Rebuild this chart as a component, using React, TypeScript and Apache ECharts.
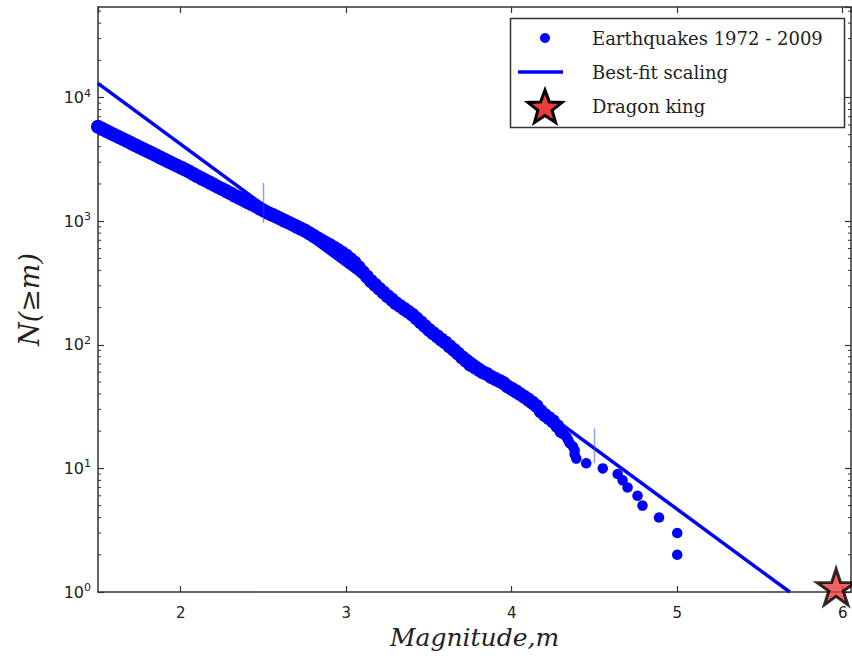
import React, { useEffect, useRef } from "react";
import * as echarts from "echarts";

// Earthquake cumulative counts N(>=m)
const magnitudes = [
  1.5, 1.525, 1.55, 1.575, 1.6, 1.625, 1.65, 1.675, 1.7, 1.725, 1.75, 1.775, 1.8, 1.825, 1.85, 1.875, 1.9, 1.925, 1.95, 1.975,
  2.0, 2.025, 2.05, 2.075, 2.1, 2.125, 2.15, 2.175, 2.2, 2.225, 2.25, 2.275, 2.3, 2.325, 2.35, 2.375, 2.4, 2.425, 2.45, 2.475,
  2.5, 2.525, 2.55, 2.575, 2.6, 2.625, 2.65, 2.675, 2.7, 2.725, 2.75, 2.775, 2.8, 2.825, 2.85, 2.875, 2.9, 2.925, 2.95, 2.975,
  3.0, 3.025, 3.05, 3.075, 3.1, 3.125, 3.15, 3.175, 3.2, 3.225, 3.25, 3.275, 3.3, 3.325, 3.35, 3.375, 3.4, 3.425, 3.45, 3.475,
  3.5, 3.525, 3.55, 3.575, 3.6, 3.625, 3.65, 3.675, 3.7, 3.725, 3.75, 3.775, 3.8, 3.825, 3.85, 3.875, 3.9, 3.925, 3.95, 3.975,
  4.0, 4.025, 4.05, 4.075, 4.1, 4.125, 4.15, 4.175, 4.2, 4.225, 4.25, 4.275, 4.3,
];
const counts = [
  5800, 5580, 5370, 5170, 4980, 4800, 4620, 4450, 4280, 4120, 3960, 3820, 3680, 3540, 3410, 3280, 3160, 3040, 2930, 2820,
  2720, 2620, 2520, 2410, 2310, 2220, 2130, 2050, 1970, 1890, 1820, 1750, 1680, 1610, 1550, 1490, 1430, 1380, 1330, 1270,
  1220, 1170, 1130, 1090, 1050, 1010, 975, 939, 904, 871, 839, 801, 764, 730, 697, 668, 640, 611, 583, 554,
  526, 493, 462, 423, 387, 356, 327, 305, 284, 265, 247, 232, 217, 206, 195, 185, 175, 163, 152, 142,
  132, 124, 117, 110, 104, 97, 91, 85, 79, 74, 69, 66, 63, 60, 58, 55, 53, 51, 49, 46,
  44, 42, 40, 38, 36, 34, 32, 29, 27, 25.5, 24, 22, 20,
];
// isolated tail points
const tailMagnitudes = [4.31, 4.33, 4.34, 4.35, 4.37, 4.38, 4.38, 4.39, 4.45, 4.55, 4.64, 4.67, 4.7, 4.76, 4.79, 4.89, 5.0, 5.0];
const tailCounts = [19, 18, 17, 16, 15, 14, 13, 12, 11, 10, 9, 8, 7, 6, 5, 4, 3, 2];

// best-fit scaling line end points
const fitMagnitudes = [1.5, 5.68];
const fitCounts = [13000, 1];
// fit range markers
const fitRangeMagnitudes = [2.5, 4.5];
const fitRangeTop = [2040, 21];
const fitRangeBottom = [966, 11];

const dragonKing = [5.96, 1.1];

const xMin = 1.5;
const xMax = 6.05;
const yMin = 1;
const yMax = 54000;
const yMinorTicks = [
  2, 3, 4, 5, 6, 7, 8, 9,
  20, 30, 40, 50, 60, 70, 80, 90,
  200, 300, 400, 500, 600, 700, 800, 900,
  2000, 3000, 4000, 5000, 6000, 7000, 8000, 9000,
  20000, 30000, 40000, 50000,
];

const BLUE = "#0000ff";
const INK = "#222222";
const STAR_PATH =
  "path://M0,-1 L0.2245,-0.309 L0.951,-0.309 L0.363,0.118 L0.588,0.809 L0,0.382 L-0.588,0.809 L-0.363,0.118 L-0.951,-0.309 L-0.2245,-0.309 Z";

function starPoints(cx: number, cy: number, ro: number, ri: number) {
  const pts: number[][] = [];
  for (let i = 0; i < 10; i++) {
    const r = i % 2 === 0 ? ro : ri;
    const a = -Math.PI / 2 + (i * Math.PI) / 5;
    pts.push([cx + r * Math.cos(a), cy + r * Math.sin(a)]);
  }
  return pts;
}

export default function App() {
  const ref = useRef<HTMLDivElement>(null);
  useEffect(() => {
    if (!ref.current) return;
    const chart = echarts.init(ref.current, null, { renderer: "svg" });

    const bandData = magnitudes.map((m, i) => [m, counts[i]]);
    const tailData = tailMagnitudes.map((m, i) => [m, tailCounts[i]]);
    const fitData = fitMagnitudes.map((m, i) => [m, fitCounts[i]]);

    const axisLine = { show: true, lineStyle: { color: "#333", width: 1.5 } };
    const tickStyle = { color: "#333", width: 1.2 };
    const isDecade = (v: number) => {
      const l = Math.log10(v);
      return Math.abs(l - Math.round(l)) < 1e-6;
    };
    const isInt = (v: number) => Math.abs(v - Math.round(v)) < 1e-6;

    const option: any = {
      animation: false,
      backgroundColor: "#ffffff",
      grid: { left: 98, right: 1, top: 7, bottom: 64, containLabel: false },
      xAxis: [
        {
          type: "value",
          min: xMin,
          max: xMax,
          splitNumber: 5,
          position: "bottom",
          axisLine,
          axisTick: { show: true, inside: true, length: 6, lineStyle: tickStyle },
          splitLine: { show: false },
          axisLabel: {
            margin: 13,
            fontFamily: "DejaVu Sans",
            fontSize: 15,
            color: INK,
            showMinLabel: false,
            showMaxLabel: false,
            formatter: (v: number) => (isInt(v) ? String(Math.round(v)) : ""),
          },
          name: "Magnitude,m",
          nameLocation: "middle",
          nameGap: 31,
          nameTextStyle: { fontFamily: "DejaVu Serif", fontStyle: "italic", fontSize: 25, color: INK },
        },
        {
          type: "value",
          min: xMin,
          max: xMax,
          splitNumber: 5,
          position: "top",
          axisLine,
          axisTick: { show: true, inside: true, length: 6, lineStyle: tickStyle },
          splitLine: { show: false },
          axisLabel: { show: false },
        },
      ],
      yAxis: [
        {
          type: "log",
          logBase: 10,
          min: yMin,
          max: yMax,
          position: "left",
          axisLine,
          axisTick: { show: true, inside: true, length: 6, lineStyle: tickStyle },
          splitLine: { show: false },
          minorTick: { show: false },
          axisLabel: {
            margin: 7,
            color: INK,
            showMaxLabel: false,
            formatter: (v: number) => (isDecade(v) ? `{b|10}{s|${Math.round(Math.log10(v))}}` : ""),
            rich: {
              b: { fontFamily: "DejaVu Sans", fontSize: 16, color: INK, lineHeight: 20, verticalAlign: "middle" },
              s: { fontFamily: "DejaVu Sans", fontSize: 11, color: INK, lineHeight: 8, verticalAlign: "top" },
            },
          },
          name: "N(≥m)",
          nameLocation: "middle",
          nameGap: 55,
          nameTextStyle: { fontFamily: "DejaVu Serif", fontStyle: "italic", fontSize: 27, color: INK },
        },
        {
          type: "log",
          logBase: 10,
          min: yMin,
          max: yMax,
          position: "right",
          axisLine,
          axisTick: { show: true, inside: true, length: 6, lineStyle: tickStyle },
          splitLine: { show: false },
          axisLabel: { show: false },
        },
      ],
      series: [
        {
          name: "Best-fit scaling",
          type: "line",
          data: fitData,
          showSymbol: false,
          symbol: "none",
          lineStyle: { color: BLUE, width: 3.5 },
          clip: true,
          silent: true,
          z: 3,
        },
        {
          name: "Earthquakes 1972 - 2009",
          type: "scatter",
          data: bandData,
          symbol: "circle",
          symbolSize: 14,
          itemStyle: { color: BLUE, opacity: 1 },
          silent: true,
          z: 4,
        },
        {
          name: "Earthquakes 1972 - 2009",
          type: "scatter",
          data: tailData,
          symbol: "circle",
          symbolSize: 10.5,
          itemStyle: { color: BLUE, opacity: 1 },
          silent: true,
          z: 4,
        },
        ...fitRangeMagnitudes.map((m, i) => ({
          name: "fit range " + i,
          type: "line",
          data: [
            [m, fitRangeTop[i]],
            [m, fitRangeBottom[i]],
          ],
          showSymbol: false,
          symbol: "none",
          lineStyle: { color: "rgba(70,70,255,0.55)", width: 1.5 },
          silent: true,
          z: 5,
        })),
        {
          name: "minor ticks",
          type: "custom",
          coordinateSystem: "cartesian2d",
          silent: true,
          clip: false,
          data: yMinorTicks.map((v) => [xMin, v]),
          encode: { x: 0, y: 1 },
          renderItem: (_p: any, api: any) => {
            const v = api.value(1);
            const pl = api.coord([xMin, v]);
            const pr = api.coord([xMax, v]);
            return {
              type: "group",
              children: [
                { type: "line", shape: { x1: pl[0], y1: pl[1], x2: pl[0] + 3, y2: pl[1] }, style: { stroke: "#333", lineWidth: 1 } },
                { type: "line", shape: { x1: pr[0], y1: pr[1], x2: pr[0] - 3, y2: pr[1] }, style: { stroke: "#333", lineWidth: 1 } },
              ],
            };
          },
          z: 2,
        },
        {
          name: "Dragon king",
          type: "scatter",
          data: [dragonKing],
          symbol: STAR_PATH,
          symbolSize: [38, 36],
          itemStyle: { color: "#ee3b3b", borderColor: "#000", borderWidth: 3 },
          silent: true,
          z: 6,
        },
      ],
      graphic: [
        {
          type: "rect",
          shape: { x: 510.5, y: 18.5, width: 334, height: 109 },
          style: { fill: "#ffffff", stroke: "#333", lineWidth: 1.5 },
          z: 100,
        },
        { type: "circle", shape: { cx: 545, cy: 38, r: 5 }, style: { fill: BLUE }, z: 101 },
        { type: "line", shape: { x1: 518, y1: 72, x2: 563, y2: 72 }, style: { stroke: BLUE, lineWidth: 3.5 }, z: 101 },
        {
          type: "polygon",
          shape: { points: starPoints(545, 108, 18, 7.5) },
          style: { fill: "#ee3b3b", stroke: "#000", lineWidth: 3, lineJoin: "miter" },
          z: 101,
        },
        ...[
          { t: "Earthquakes 1972 - 2009", y: 38 },
          { t: "Best-fit scaling", y: 72 },
          { t: "Dragon king", y: 106 },
        ].map((e) => ({
          type: "text",
          x: 592,
          y: e.y,
          style: {
            text: e.t,
            fontFamily: "DejaVu Serif",
            fontSize: 18,
            fill: INK,
            align: "left",
            verticalAlign: "middle",
          },
          z: 101,
        })),
      ],
    };

    chart.setOption(option);
    return () => chart.dispose();
  }, []);

  return (
    <div
      ref={ref}
      style={{ position: "fixed", left: 0, top: 0, width: 852, height: 656, background: "#fff" }}
    />
  );
}
